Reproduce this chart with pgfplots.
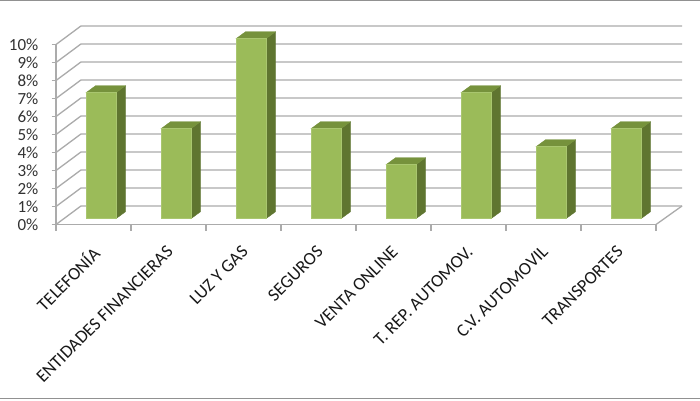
\documentclass[border=0pt]{standalone}
\usepackage{pgfplots}
\pgfplotsset{compat=1.18}
\usepackage{fontspec}
\setmainfont{Carlito}
\definecolor{gridg}{HTML}{ABABAB}
\definecolor{frontc}{HTML}{9BBB59}
\definecolor{frontb}{HTML}{A9C66F}
\definecolor{sidec}{HTML}{5F7530}
\definecolor{topc}{HTML}{76923C}
\pgfplotstableread{
x v
0.6 7
1.6 5
2.6 10
3.6 5
4.6 3
5.6 7
6.6 4
7.6 5
}\bardata
\newcommand\BarFaces[2]{%
  \pgfmathsetmacro\xa{#1-0.2}\pgfmathsetmacro\xb{#1+0.2}\pgfmathsetmacro\xc{#1+0.327}\pgfmathsetmacro\xd{#1-0.073}%
  \pgfmathsetmacro\yb{0.322}\pgfmathsetmacro\ybb{0.711}\pgfmathsetmacro\yt{#2+0.322}\pgfmathsetmacro\ytt{#2+0.711}%
  \edef\tmp{\noexpand\addplot[fill=sidec,draw=sidec,line width=0.3pt] coordinates {(\xb,\yb)(\xb,\yt)(\xc,\ytt)(\xc,\ybb)} --cycle;
  \noexpand\addplot[fill=topc,draw=topc,line width=0.3pt] coordinates {(\xa,\yt)(\xb,\yt)(\xc,\ytt)(\xd,\ytt)} --cycle;}\tmp}
\begin{document}
\begin{tikzpicture}[x=1pt,y=1pt]
\useasboundingbox (0,0) rectangle (700,400);
\fill[white] (0,0) rectangle (700,400);
\draw[gridg!85!black,line width=1.5pt] (0,399.4) -- (700,399.4);
\draw[gridg!85!black,line width=1.5pt] (0,1.6) -- (700,1.6);
\begin{axis}[
  at={(56pt,175.5pt)},anchor=south west,
  width=600pt,height=180pt,scale only axis,
  xmin=0,xmax=8,ymin=0,ymax=10,clip=false,
  axis x line*=bottom,axis y line*=left,
  axis line style={gridg,line width=1.3pt,-},
  every tick/.style={gridg,line width=1.2pt},
  tick align=outside,
  major tick length=4.5pt,minor tick length=6pt,
  xtick={0.5,1.5,2.5,3.5,4.5,5.5,6.5,7.5},
  xticklabels={TELEFONÍA,ENTIDADES FINANCIERAS,LUZ Y GAS,SEGUROS,VENTA ONLINE,T. REP. AUTOMOV.,C.V. AUTOMOVIL,TRANSPORTES},
  minor xtick={0,1,2,3,4,5,6,7,8},
  x tick style={draw=none},
  minor x tick style={gridg,line width=1.2pt,draw=gridg},
  ytick={0,1,2,3,4,5,6,7,8,9,10},
  yticklabels={0\%,1\%,2\%,3\%,4\%,5\%,6\%,7\%,8\%,9\%,10\%},
  y tick label style={font=\fontsize{17}{17}\selectfont,text=black!80,inner sep=1pt,xshift=-12pt},
  x tick label style={font=\fontsize{18}{18}\selectfont,text=black!90,rotate=45,anchor=north east,inner sep=0pt,xshift=-13pt,yshift=-9pt},
]
% walls
\pgfplotsinvokeforeach{0,1,2,3,4,5,6,7,8,9,10}{
  \draw[gridg,line width=1.3pt] (axis cs:0,#1) -- (axis cs:0.333,#1+1.03) -- (axis cs:8.347,#1+1.03);
}
\draw[gridg,line width=1.3pt] (axis cs:8,0) -- (axis cs:8.347,1.03);
% bars
\BarFaces{0.6}{7}\BarFaces{1.6}{5}\BarFaces{2.6}{10}\BarFaces{3.6}{5}
\BarFaces{4.6}{3}\BarFaces{5.6}{7}\BarFaces{6.6}{4}\BarFaces{7.6}{5}
\addplot[ybar,bar width=30pt,fill=frontc,draw=frontb,line width=0.8pt,yshift=5.8pt] table[x=x,y=v] {\bardata};
\end{axis}
\end{tikzpicture}
\end{document}
